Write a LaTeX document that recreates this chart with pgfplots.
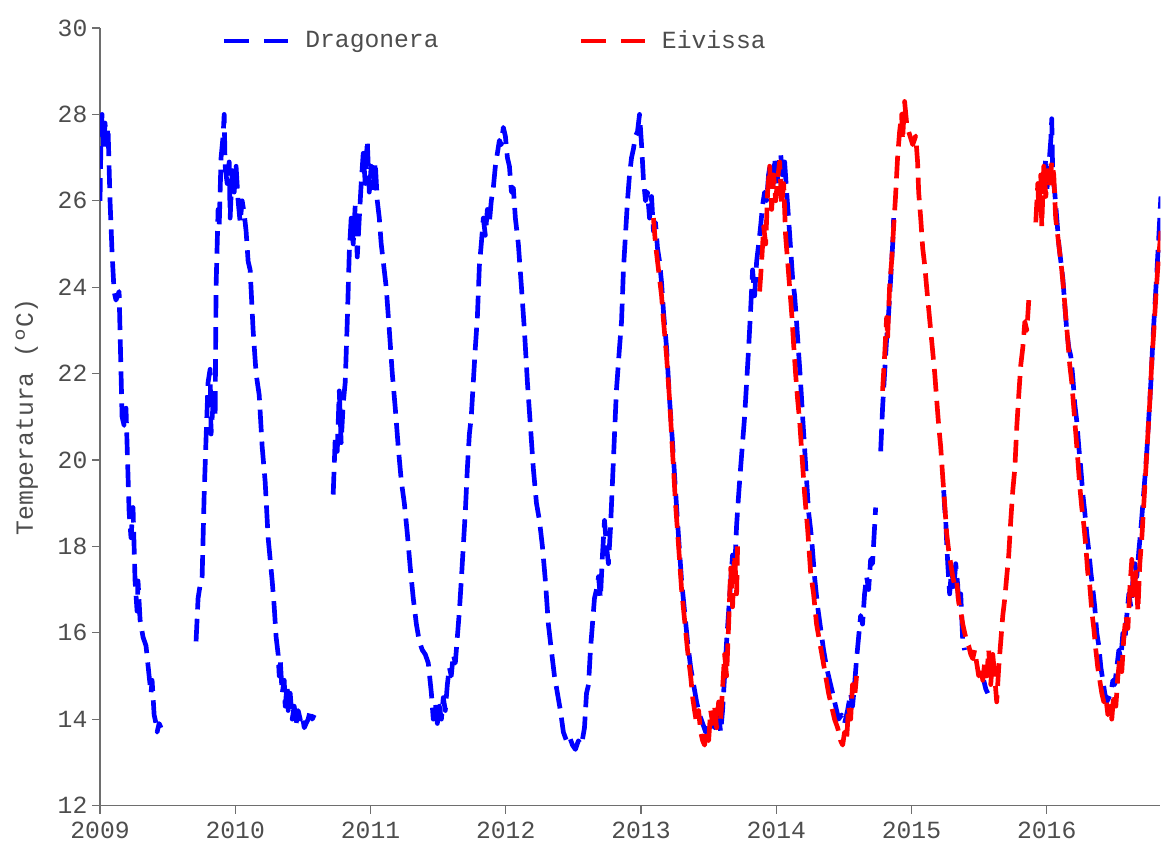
\documentclass[border=0pt]{standalone}
\usepackage{fontspec}
\setmainfont{Liberation Mono}
\usepackage{pgfplots}
\usepackage{pgfplotstable}
\pgfplotsset{compat=1.18}
\definecolor{txt}{HTML}{4D4D4D}
\definecolor{axl}{HTML}{6E6E6E}

\pgfplotstableread{
x y
2009.000 26.0
2009.007 27.4
2009.015 28.0
2009.026 27.2
2009.037 27.8
2009.048 27.3
2009.059 27.7
2009.074 26.0
2009.089 24.8
2009.104 23.9
2009.118 23.7
2009.141 23.9
2009.163 21.0
2009.178 20.8
2009.192 21.2
2009.215 18.8
2009.229 18.2
2009.244 18.9
2009.259 17.2
2009.274 16.5
2009.281 17.2
2009.296 16.3
2009.318 15.9
2009.340 15.7
2009.363 15.0
2009.377 14.6
2009.385 14.9
2009.400 14.1
2009.414 13.9
2009.422 13.7
2009.437 13.9
2009.451 13.8
nan nan
2009.710 15.8
2009.725 16.8
2009.740 17.1
2009.755 17.3
2009.770 19.2
2009.784 20.5
2009.799 21.8
2009.814 22.1
2009.821 20.6
2009.836 21.3
2009.851 21.0
2009.858 24.0
2009.873 25.8
2009.881 25.4
2009.895 27.0
2009.910 27.5
2009.918 28.0
2009.925 26.8
2009.940 26.4
2009.955 26.9
2009.962 25.6
2009.977 26.7
2009.992 26.2
2010.006 26.8
2010.021 26.0
2010.036 25.5
2010.051 26.0
2010.066 25.7
2010.080 25.3
2010.095 24.6
2010.110 24.4
2010.132 23.0
2010.154 22.0
2010.177 21.5
2010.199 20.3
2010.221 19.5
2010.243 18.2
2010.258 17.7
2010.273 17.2
2010.288 16.6
2010.302 15.9
2010.317 15.5
2010.325 15.0
2010.332 15.4
2010.347 14.6
2010.362 14.9
2010.369 14.3
2010.384 14.8
2010.391 14.2
2010.406 14.6
2010.421 14.0
2010.436 14.3
2010.450 13.9
2010.465 14.2
2010.480 14.0
2010.495 14.1
2010.510 13.8
2010.524 13.9
2010.539 14.0
2010.554 14.2
2010.569 14.0
2010.584 14.1
nan nan
2010.724 19.2
2010.739 20.5
2010.754 20.2
2010.769 21.6
2010.783 20.4
2010.798 21.3
2010.813 21.8
2010.828 23.2
2010.843 24.8
2010.857 25.6
2010.872 25.0
2010.887 25.9
2010.902 24.7
2010.917 25.6
2010.931 26.4
2010.946 27.1
2010.961 26.4
2010.976 27.4
2010.991 26.2
2011.005 26.8
2011.020 26.3
2011.035 26.9
2011.050 26.0
2011.065 25.6
2011.079 25.0
2011.094 24.6
2011.116 24.0
2011.139 23.0
2011.161 22.0
2011.183 21.2
2011.205 20.3
2011.228 19.5
2011.250 19.0
2011.272 18.3
2011.294 17.5
2011.316 16.8
2011.339 16.2
2011.361 15.8
2011.383 15.6
2011.405 15.5
2011.427 15.3
2011.450 14.6
2011.464 14.0
2011.479 14.4
2011.494 13.9
2011.509 14.3
2011.524 14.0
2011.538 14.5
2011.553 14.2
2011.568 14.8
2011.583 15.2
2011.597 15.0
2011.612 15.5
2011.627 15.3
2011.642 15.9
2011.657 16.5
2011.671 17.2
2011.686 18.0
2011.701 18.8
2011.716 19.8
2011.731 20.6
2011.745 21.0
2011.760 21.8
2011.775 22.6
2011.790 23.3
2011.805 24.5
2011.819 25.0
2011.834 25.6
2011.849 25.2
2011.864 25.8
2011.879 25.5
2011.893 26.0
2011.908 26.3
2011.923 26.8
2011.938 27.1
2011.953 27.4
2011.967 27.3
2011.982 27.7
2011.997 27.5
2012.012 27.0
2012.027 26.8
2012.042 26.2
2012.056 26.3
2012.071 25.6
2012.093 25.0
2012.116 24.0
2012.138 23.0
2012.160 21.8
2012.182 20.8
2012.204 19.8
2012.227 19.0
2012.249 18.6
2012.271 18.0
2012.293 17.2
2012.315 16.2
2012.337 15.6
2012.360 15.0
2012.382 14.6
2012.404 14.2
2012.426 13.7
2012.449 13.5
2012.471 13.6
2012.493 13.4
2012.515 13.3
2012.537 13.5
2012.560 13.4
2012.582 13.8
2012.597 14.6
2012.612 14.8
2012.626 15.6
2012.641 16.2
2012.656 16.8
2012.671 17.0
2012.686 17.3
2012.700 16.8
2012.715 17.8
2012.730 18.6
2012.745 18.0
2012.759 17.6
2012.774 18.4
2012.796 20.0
2012.818 21.6
2012.841 22.6
2012.856 23.2
2012.870 24.4
2012.885 25.2
2012.900 26.0
2012.915 26.6
2012.930 27.0
2012.944 27.2
2012.959 27.5
2012.974 27.6
2012.989 28.0
2013.004 27.3
2013.018 26.5
2013.033 26.0
2013.048 26.2
2013.063 25.6
2013.078 26.1
2013.092 25.3
2013.107 25.5
2013.122 24.9
2013.137 24.6
2013.152 24.1
2013.167 23.4
2013.189 22.6
2013.211 21.4
2013.233 20.4
2013.255 19.3
2013.278 18.2
2013.300 17.2
2013.322 16.5
2013.344 15.8
2013.367 15.2
2013.389 14.8
2013.411 14.4
2013.433 14.1
2013.456 13.9
2013.478 13.7
2013.500 13.9
2013.522 14.0
2013.544 13.8
2013.566 14.3
2013.589 13.7
2013.603 14.2
2013.618 15.0
2013.633 15.8
2013.648 16.5
2013.663 17.2
2013.677 17.8
2013.692 17.4
2013.707 18.5
2013.722 19.2
2013.736 19.8
2013.751 20.4
2013.766 21.0
2013.781 21.8
2013.796 22.6
2013.811 23.5
2013.825 24.4
2013.840 23.8
2013.855 24.6
2013.870 25.0
2013.884 25.4
2013.899 25.9
2013.914 26.2
2013.929 26.0
2013.943 26.6
2013.958 26.9
2013.973 26.2
2013.988 27.0
2014.003 26.3
2014.017 26.8
2014.032 27.1
2014.047 26.6
2014.062 26.9
2014.077 26.2
2014.091 25.6
2014.106 24.9
2014.121 24.2
2014.136 23.8
2014.150 23.2
2014.165 22.5
2014.180 21.8
2014.195 21.0
2014.217 19.9
2014.239 18.8
2014.261 18.2
2014.283 17.3
2014.306 16.6
2014.328 16.1
2014.350 15.6
2014.372 15.2
2014.394 14.9
2014.417 14.6
2014.439 14.3
2014.461 14.0
2014.483 14.1
2014.505 13.9
2014.527 14.2
2014.550 14.6
2014.564 14.3
2014.579 14.8
2014.594 15.4
2014.609 15.9
2014.624 16.4
2014.638 16.2
2014.653 16.9
2014.668 17.3
2014.683 17.0
2014.698 17.7
2014.712 17.6
2014.735 18.9
nan nan
2014.772 20.2
2014.786 21.2
2014.801 22.0
2014.816 22.8
2014.831 23.4
2014.846 24.2
2014.861 25.0
2014.868 25.6
nan nan
2015.238 19.3
2015.245 18.9
2015.253 18.6
2015.260 18.1
2015.268 17.6
2015.282 16.9
2015.297 17.5
2015.312 17.0
2015.327 17.6
2015.342 17.1
2015.349 16.6
2015.364 16.9
2015.379 15.8
2015.393 15.6
nan nan
2015.534 14.9
2015.549 14.7
2015.564 14.6
nan nan
2015.978 26.4
2015.993 27.0
2016.000 26.2
2016.015 26.8
2016.030 27.4
2016.037 27.9
2016.044 26.6
2016.059 26.2
2016.074 25.6
2016.089 25.0
2016.104 24.6
2016.119 24.2
2016.133 23.6
2016.148 23.0
2016.163 22.6
2016.178 22.4
2016.193 21.9
2016.207 21.3
2016.222 20.9
2016.237 20.3
2016.252 19.8
2016.267 19.2
2016.281 18.8
2016.296 18.3
2016.311 17.9
2016.326 17.4
2016.341 17.0
2016.355 16.6
2016.370 16.0
2016.385 15.7
2016.400 15.2
2016.415 14.9
2016.429 14.6
2016.444 14.4
2016.459 14.5
2016.474 14.6
2016.489 14.9
2016.503 14.8
2016.518 15.2
2016.533 15.6
2016.548 15.4
2016.563 16.0
2016.578 15.8
2016.592 16.4
2016.607 16.9
2016.622 16.6
2016.637 17.2
2016.652 17.6
2016.666 17.3
2016.681 17.9
2016.696 18.4
2016.711 19.0
2016.726 19.6
2016.740 20.2
2016.755 21.0
2016.770 21.8
2016.785 22.8
2016.800 23.6
2016.815 24.4
2016.829 25.2
2016.844 26.1
}\dragonera

\pgfplotstableread{
x y
2013.092 25.6
2013.107 25.0
2013.122 24.6
2013.137 24.2
2013.152 23.8
2013.167 23.2
2013.189 22.4
2013.211 21.4
2013.233 20.2
2013.255 19.0
2013.278 18.0
2013.300 17.0
2013.322 16.3
2013.344 15.6
2013.367 15.0
2013.382 14.5
2013.396 14.2
2013.411 13.9
2013.426 14.2
2013.441 13.7
2013.456 13.5
2013.470 13.4
2013.485 13.7
2013.500 13.5
2013.515 14.2
2013.530 13.9
2013.544 14.3
2013.559 13.8
2013.574 14.4
2013.589 14.0
2013.603 14.7
2013.618 15.5
2013.633 15.0
2013.648 16.2
2013.663 17.5
2013.677 16.6
2013.692 17.8
2013.707 16.9
2013.714 18.0
nan nan
2013.877 23.9
2013.892 24.6
2013.907 25.4
2013.922 25.0
2013.936 26.2
2013.951 26.8
2013.966 25.8
2013.981 26.6
2013.996 26.0
2014.010 26.5
2014.025 26.9
2014.040 25.9
2014.055 26.4
2014.069 25.2
2014.084 24.6
2014.099 24.0
2014.114 23.4
2014.128 22.7
2014.143 22.0
2014.158 21.4
2014.173 20.9
2014.188 20.2
2014.210 19.2
2014.232 18.4
2014.254 17.4
2014.276 16.9
2014.298 16.2
2014.320 15.8
2014.343 15.4
2014.365 15.0
2014.387 14.6
2014.409 14.3
2014.431 14.0
2014.454 13.8
2014.476 13.5
2014.491 13.4
2014.505 13.7
2014.520 13.5
2014.535 14.3
2014.550 14.0
2014.564 14.8
2014.579 14.5
2014.594 15.0
nan nan
2014.786 21.6
2014.801 22.4
2014.816 23.3
2014.823 22.8
2014.838 24.0
2014.853 24.6
2014.868 25.4
2014.882 26.1
2014.897 27.0
2014.912 27.6
2014.927 28.0
2014.934 27.4
2014.949 28.3
2014.964 27.8
2014.979 27.6
2015.009 27.3
2015.031 27.5
2015.045 26.9
2015.053 26.2
2015.068 25.6
2015.083 24.9
2015.098 24.5
2015.112 24.0
2015.127 23.5
2015.142 23.0
2015.157 22.5
2015.172 22.0
2015.186 21.4
2015.201 20.8
2015.216 20.3
2015.231 19.6
2015.245 19.0
2015.260 18.3
2015.275 17.9
2015.290 17.6
2015.305 17.3
2015.319 17.1
2015.334 17.2
2015.349 16.7
2015.364 16.5
2015.379 16.2
2015.393 16.0
2015.408 15.8
2015.423 15.7
2015.438 15.5
2015.453 15.4
2015.467 15.6
2015.482 15.3
2015.497 15.0
2015.512 15.2
2015.527 14.9
2015.541 15.3
2015.556 15.0
2015.571 15.6
2015.586 14.8
2015.601 15.5
2015.615 15.0
2015.630 14.4
2015.645 15.2
2015.660 15.8
2015.675 16.4
2015.690 16.8
2015.704 17.3
2015.719 17.8
2015.734 18.6
2015.749 19.3
2015.764 19.8
2015.779 20.8
2015.793 21.5
2015.808 22.2
2015.823 22.6
2015.838 23.2
2015.853 23.0
2015.867 23.7
nan nan
2015.919 25.5
2015.934 26.4
2015.941 25.8
2015.956 26.6
2015.963 25.4
2015.978 26.8
2015.993 26.1
2016.007 26.7
2016.022 26.3
2016.037 26.9
2016.052 26.6
2016.066 25.6
2016.081 25.2
2016.096 24.8
2016.111 24.4
2016.126 23.9
2016.141 23.3
2016.155 22.8
2016.170 22.2
2016.185 21.8
2016.200 21.2
2016.215 20.6
2016.230 20.0
2016.244 19.4
2016.259 18.9
2016.274 18.5
2016.289 18.0
2016.303 17.4
2016.318 17.1
2016.333 16.5
2016.348 16.1
2016.363 15.6
2016.377 15.2
2016.392 14.9
2016.407 14.6
2016.422 14.4
2016.437 14.5
2016.452 14.1
2016.466 14.3
2016.481 14.0
2016.496 14.6
2016.511 14.3
2016.526 15.0
2016.540 15.4
2016.555 15.1
2016.570 15.9
2016.585 16.4
2016.600 16.1
2016.614 17.0
2016.629 17.7
2016.644 16.8
2016.659 17.4
2016.674 16.5
2016.688 17.6
2016.703 18.2
2016.718 19.0
2016.733 19.8
2016.748 20.6
2016.763 21.4
2016.777 22.3
2016.792 23.0
2016.807 23.8
2016.822 24.5
2016.836 25.0
2016.844 25.3
}\eivissa

\begin{document}
\begin{tikzpicture}
\begin{axis}[
  name=ax,
  width=795pt, height=583pt, scale only axis,
  xmin=2009, xmax=2016.84, ymin=12, ymax=30,
  axis x line*=bottom, axis y line*=left,
  axis line style={axl, line width=1pt, -},
  xtick={2009,2010,...,2016}, ytick={12,14,...,30},
  tick align=outside, major tick length=6pt,
  tick style={axl, line width=1pt},
  /pgf/number format/assume math mode=true,
  x tick label style={/pgf/number format/1000 sep={}},
  ticklabel style={font=\fontsize{18.5}{22}\selectfont, text=txt},
  xticklabel style={yshift=-3pt},
  ylabel={Temperatura (ºC)},
  ylabel shift=8pt,
  ylabel style={font=\fontsize{18.5}{22}\selectfont, text=txt},
  unbounded coords=jump,
  legend columns=2,
  legend style={at={(0.111,1.0)}, anchor=north west, draw=none, fill=none,
    yshift=2pt,
    font=\fontsize{18.5}{22}\selectfont, text=txt,
    /tikz/every odd column/.append style={column sep=9pt},
    /tikz/every even column/.append style={column sep=103pt}},
  legend image code/.code={\draw[#1, dash pattern=on 18.75pt off 11.25pt] (0pt,0pt) -- (48pt,0pt);},
  every axis plot/.append style={line width=3.5pt, dash pattern=on 17pt off 7pt, line join=round},
]
\addplot[color={rgb,255:red,0;green,0;blue,255}] table[x=x,y=y] {\dragonera};
\addlegendentry{Dragonera}
\addplot[color={rgb,255:red,255;green,0;blue,0}] table[x=x,y=y] {\eivissa};
\addlegendentry{Eivissa}
\end{axis}
\pgfresetboundingbox
\path[use as bounding box] ([shift={(-75pt,-30pt)}]ax.south west) rectangle ([shift={(797pt,604pt)}]ax.south west);
\end{tikzpicture}
\end{document}
